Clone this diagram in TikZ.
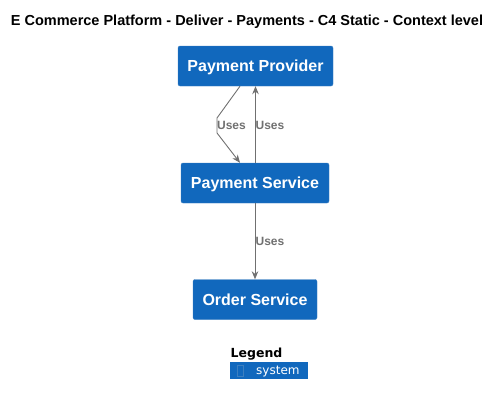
\documentclass[tikz,border=0pt]{standalone}
\usepackage{fontspec}
\setmainfont{Liberation Sans}
\newfontfamily\legendfont{DejaVu Sans}
\usetikzlibrary{arrows.meta}
\definecolor{sysblue}{HTML}{1168BD}
\definecolor{sysedge}{HTML}{3C7FC0}
\definecolor{relgray}{HTML}{707070}
\begin{document}
\begin{tikzpicture}[x=1pt, y=-1pt,
	system/.style={draw=sysedge, fill=sysblue, rounded corners=2pt, text=white,
		font=\fontsize{16}{18}\selectfont\bfseries, inner sep=0pt, text depth=-1.5pt},
	uses/.style={draw=relgray, line width=0.9pt, -{Stealth[length=8pt, width=6.5pt]}},
	rellabel/.style={text=relgray, font=\fontsize{12}{14}\selectfont\bfseries, inner sep=0pt}]
	\useasboundingbox (0,0) rectangle (502,404);
	\node (title) at (247,21.5) {\fontsize{14.5}{16}\selectfont\bfseries E Commerce Platform - Deliver - Payments - C4 Static - Context level};

	\node (provider) [system, minimum width=155pt, minimum height=40pt] at (255.5,66) {Payment Provider};
	\node (service) [system, minimum width=148pt, minimum height=40pt] at (255,183) {Payment Service};
	\node (order) [system, minimum width=124pt, minimum height=40pt] at (255,299.5) {Order Service};

	%relations:
	\draw [uses] ([xshift=-15.5pt]provider.south) -- (217,118) -- (217,133) -- ([xshift=-15pt]service.north);
	\node (uses1) [rellabel] at (231.5,125.5) {Uses};
	\draw [uses] ([xshift=0.5pt]service.north) -- ([xshift=0pt]provider.south);
	\node (uses2) [rellabel] at (270,125.5) {Uses};
	\draw [uses] (service.south) -- (order.north);
	\node (uses3) [rellabel] at (270,241.5) {Uses};

	%Legend:
	\node (legend) at (256.5,354.5) {\legendfont\fontsize{12.5}{14}\selectfont\bfseries Legend};
	\node (legsys) [fill=sysblue, minimum width=78pt, minimum height=17pt, inner sep=0pt] at (269,370.5) {};
	\draw [draw=sysedge] (237.5,365.5) rectangle (243.5,376);
	\node (legtext) [text=white, font=\legendfont\fontsize{12}{14}\selectfont, anchor=west, inner sep=0pt] at (256,372) {system};
\end{tikzpicture}
\end{document}
